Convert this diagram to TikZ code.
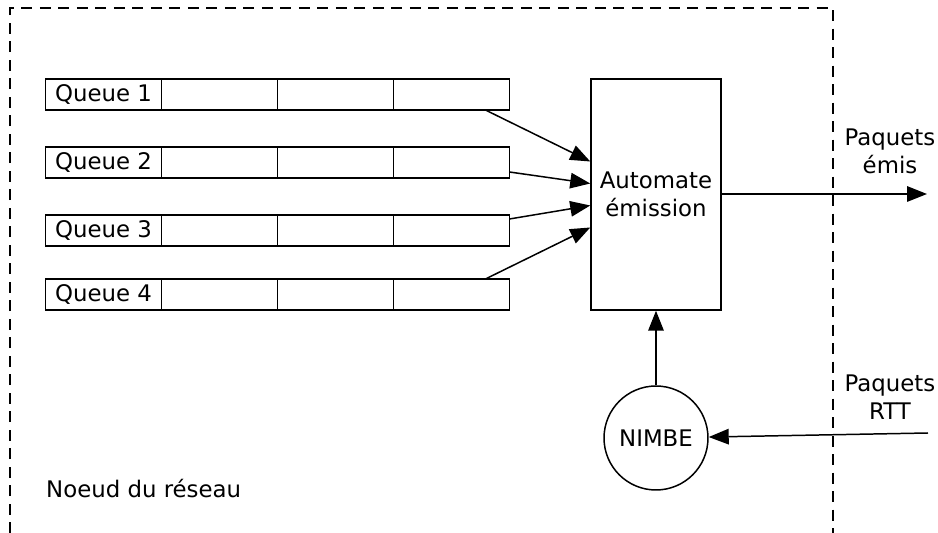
\documentclass[tikz,border=0pt]{standalone}
\usepackage{fontspec}
\setmainfont{DejaVu Sans}
\usetikzlibrary{arrows.meta, positioning, calc}

\tikzset{
  cell/.style={draw, line width=0.85pt, minimum width=2.32cm, minimum height=0.62cm, inner sep=0pt, outer sep=0pt},
  flow/.style={line width=0.85pt, -{Triangle[length=0.4cm,width=0.31cm]}},
  border/.style={line width=0.85pt, dash pattern=on 0.22cm off 0.15cm},
}

\begin{document}
\begin{tikzpicture}[x=0.02cm, y=-0.02cm, font=\fontsize{13}{15.8}\selectfont]
  \useasboundingbox (0,0) rectangle (938,533);

  % noeud du reseau
  \draw[border] (10,533) -- (10,8) -- (833,8) -- (833,533);
  \node[anchor=west] (noeud) at (40,489) {Noeud du réseau};

  % files d'attente
  \foreach \i/\y in {1/94.5, 2/162.5, 3/230.5, 4/294.5} {
    \node[cell] (q\i) at (103.5,\y) {Queue \i};
    \node[cell, right=0pt of q\i] (q\i c1) {};
    \node[cell, right=0pt of q\i c1] (q\i c2) {};
    \node[cell, right=0pt of q\i c2] (q\i c3) {};
  }

  \node[draw, line width=0.85pt, minimum width=2.6cm, minimum height=4.62cm, align=center]
    (auto) at (656,194.5) {Automate\\émission};
  \node[draw, circle, line width=0.85pt, minimum size=2.08cm, inner sep=0pt]
    (nimbe) at (656,438) {NIMBE};

  \draw[flow] ([xshift=-0.48cm]q1c3.south east) -- ([yshift=0.66cm]auto.west);
  \draw[flow] ([yshift=-0.19cm]q2c3.east) -- ([yshift=0.22cm]auto.west);
  \draw[flow] ([yshift=0.23cm]q3c3.east) -- ([yshift=-0.22cm]auto.west);
  \draw[flow] ([xshift=-0.48cm]q4c3.north east) -- ([yshift=-0.66cm]auto.west);

  % sorties / entrees
  \coordinate (out) at (927,194);
  \coordinate (rtt) at (928,433);
  \draw[flow] (auto.east |- out) -- (out);
  \draw[flow] (nimbe) -- (auto);
  \draw[flow] (rtt) -- (nimbe);

  \node[align=center] (emis) at (890,151) {Paquets\\émis};
  \node[align=center] (rttlab) at (890,397) {Paquets\\RTT};
\end{tikzpicture}
\end{document}
